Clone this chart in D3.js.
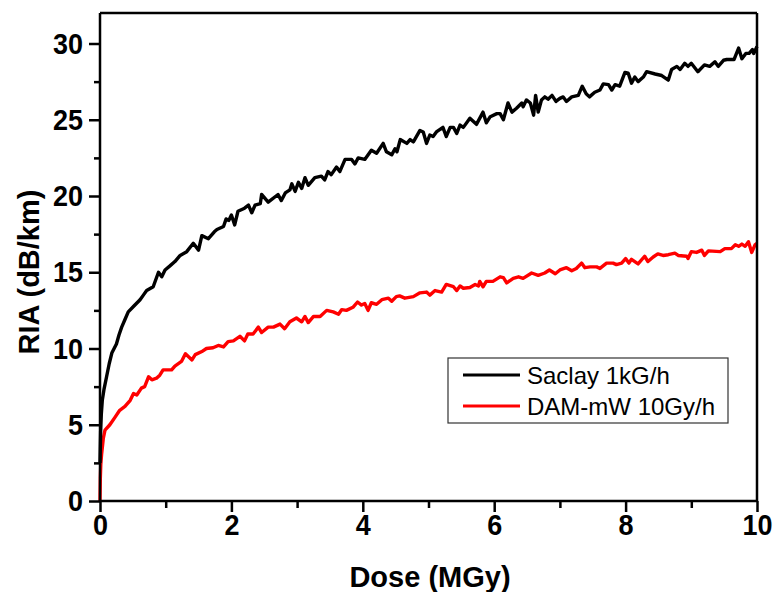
<!DOCTYPE html>
<html><head><meta charset="utf-8">
<script src="https://cdn.jsdelivr.net/npm/d3@7"></script>
<style>body{margin:0;background:#fff}svg{display:block}text{font-family:"Liberation Sans",Arial,sans-serif}</style>
</head><body><div id="chart"></div>
<script>
const seriesNames = ["Saclay 1kG/h", "DAM-mW 10Gy/h"];
const seriesColors = ["#000000", "#ff0000"];
const xTicks = [0, 2, 4, 6, 8, 10];
const yTicks = [0, 5, 10, 15, 20, 25, 30];

const doseBlack = [0,0.01,0.02,0.035,0.06,0.10,0.14,0.18,0.25,0.29,0.33,0.38,0.43,0.52,0.61,0.66,0.71,0.81,0.89,0.94,0.99,1.06,1.14,1.22,1.32,1.42,1.5,1.55,1.65,1.74,1.78,1.88,1.92,1.96,2.0,2.05,2.1,2.2,2.26,2.31,2.36,2.44,2.46,2.56,2.71,2.76,2.82,2.89,2.92,2.97,3.02,3.07,3.12,3.17,3.27,3.37,3.42,3.47,3.52,3.6,3.65,3.73,3.83,3.88,3.93,4.03,4.13,4.21,4.31,4.36,4.44,4.49,4.52,4.57,4.67,4.72,4.77,4.87,4.92,4.97,5.02,5.07,5.12,5.22,5.27,5.33,5.38,5.43,5.48,5.53,5.63,5.73,5.83,5.88,5.94,6.04,6.09,6.14,6.21,6.27,6.34,6.42,6.44,6.49,6.55,6.6,6.63,6.67,6.72,6.77,6.82,6.88,6.94,7.0,7.05,7.1,7.18,7.28,7.34,7.4,7.45,7.53,7.61,7.66,7.74,7.79,7.84,7.91,7.99,8.04,8.09,8.14,8.19,8.27,8.32,8.45,8.55,8.65,8.7,8.78,8.83,8.9,8.95,9.0,9.1,9.2,9.28,9.36,9.41,9.49,9.54,9.65,9.72,9.77,9.83,9.88,9.93,9.95,10.0];
const riaBlack = [2.5,4.6,5.7,6.6,7.3,8.15,9.0,9.7,10.3,10.9,11.4,11.9,12.4,12.8,13.2,13.5,13.8,14.05,15.0,14.7,15.15,15.4,15.7,16.1,16.35,16.9,16.45,17.4,17.2,17.65,17.8,18.0,18.5,18.4,18.75,18.1,19.0,19.2,19.4,18.9,19.4,19.5,20.1,19.6,20.1,19.7,20.2,20.4,20.8,20.3,20.9,20.5,21.2,20.7,21.2,21.3,21.05,21.6,21.4,21.9,21.6,22.4,22.4,22.1,22.5,22.4,23.0,22.8,23.45,22.9,22.7,23.1,22.9,23.7,23.45,23.7,23.55,24.3,24.2,23.45,24.0,23.9,24.2,24.5,23.9,24.5,24.5,24.1,24.65,24.5,25.1,24.7,25.5,24.8,25.2,25.4,25.4,25.0,26.1,25.5,25.75,26.1,25.85,26.3,26.1,25.3,26.6,25.5,26.3,26.5,26.35,26.6,26.2,26.4,26.5,26.2,26.5,26.6,27.2,26.7,26.5,26.8,26.95,27.35,27.3,26.95,27.3,27.2,28.1,28.05,27.4,27.8,27.5,27.8,28.15,28.0,27.9,27.6,28.3,28.5,28.3,28.7,28.5,28.7,28.15,28.6,28.5,28.8,28.5,28.9,28.95,28.95,29.7,29.0,29.35,29.35,29.6,29.35,29.8];

const doseRed = [0,0.005,0.012,0.025,0.05,0.076,0.15,0.23,0.3,0.38,0.46,0.51,0.56,0.63,0.68,0.74,0.79,0.86,0.91,0.96,1.09,1.14,1.24,1.3,1.4,1.45,1.55,1.62,1.72,1.8,1.88,1.95,2.03,2.13,2.2,2.25,2.33,2.41,2.46,2.56,2.64,2.74,2.81,2.89,2.99,3.07,3.12,3.17,3.25,3.35,3.45,3.55,3.63,3.68,3.75,3.85,3.92,3.98,4.03,4.08,4.13,4.21,4.29,4.39,4.44,4.51,4.56,4.64,4.77,4.87,4.97,5.02,5.1,5.2,5.27,5.38,5.43,5.48,5.53,5.63,5.71,5.76,5.78,5.83,5.88,5.98,6.09,6.14,6.19,6.29,6.37,6.44,6.57,6.67,6.77,6.84,6.93,7.0,7.1,7.18,7.25,7.33,7.38,7.46,7.56,7.61,7.71,7.81,7.86,7.94,8.0,8.05,8.09,8.19,8.29,8.34,8.42,8.49,8.57,8.65,8.75,8.8,8.93,8.95,9.0,9.08,9.16,9.2,9.26,9.44,9.51,9.61,9.67,9.72,9.77,9.82,9.87,9.92,9.97,10.0];
const riaRed = [0,1.5,2.4,3.1,4.1,4.65,5.0,5.5,5.95,6.2,6.6,7.05,6.95,7.4,7.5,8.15,7.95,8.05,8.25,8.6,8.6,8.85,9.15,9.65,9.25,9.6,9.8,10.0,10.05,10.2,10.1,10.45,10.5,10.8,10.5,10.95,10.95,11.4,11.05,11.4,11.4,11.6,11.3,11.75,12.0,11.75,12.1,11.7,12.1,12.1,12.5,12.4,12.25,12.55,12.5,12.7,13.05,12.85,12.95,12.5,13.0,12.9,13.2,13.3,13.1,13.4,13.45,13.3,13.4,13.65,13.7,13.5,13.8,13.7,14.2,14.05,13.8,14.1,13.95,14.0,14.2,14.1,14.4,14.05,14.4,14.4,14.7,14.65,14.3,14.6,14.7,14.6,14.95,14.8,14.95,15.15,14.9,15.15,15.3,15.1,15.25,15.6,15.3,15.35,15.35,15.25,15.6,15.6,15.5,15.6,15.9,15.6,15.85,15.55,16.05,15.7,16.0,16.2,16.1,16.15,16.25,16.1,16.05,15.9,16.35,16.3,16.45,16.1,16.4,16.35,16.55,16.55,16.8,16.7,16.85,16.7,17.0,16.3,16.8,16.9];

const W = 775, H = 592;
const svg = d3.select("#chart").append("svg").attr("width", W).attr("height", H);
const x = d3.scaleLinear().domain([0, 10]).range([100, 757]);
const y = d3.scaleLinear().domain([0, 32]).range([501, 13]);

const font = '"Liberation Sans", Arial, sans-serif';

// series
const line = d3.line().x(d => x(d[0])).y(d => y(d[1]));
const gLines = svg.append("g");
const seriesData = [d3.zip(doseBlack, riaBlack), d3.zip(doseRed, riaRed)];
[1, 0].forEach(i => {
  gLines.append("path").datum(seriesData[i])
    .attr("fill", "none").attr("stroke", seriesColors[i])
    .attr("stroke-width", 3.4).attr("stroke-linejoin", "round")
    .attr("d", line);
});

// axes
const xAxis = svg.append("g").attr("transform", `translate(0,${y(0)})`)
  .call(d3.axisBottom(x).tickValues(xTicks).tickSize(11).tickPadding(2).tickFormat(d3.format("d")));
const xMinor = svg.append("g").attr("transform", `translate(0,${y(0)})`)
  .call(d3.axisBottom(x).tickValues(d3.range(1, 10, 2)).tickSize(7).tickFormat(""));
const yAxis = svg.append("g").attr("transform", `translate(${x(0)},0)`)
  .call(d3.axisLeft(y).tickValues(yTicks).tickSize(11).tickPadding(5).tickFormat(d3.format("d")));
const yMinor = svg.append("g").attr("transform", `translate(${x(0)},0)`)
  .call(d3.axisLeft(y).tickValues(d3.range(2.5, 32, 5)).tickSize(6).tickFormat(""));
const xTop = svg.append("g").attr("transform", `translate(0,${y(32)})`)
  .call(d3.axisTop(x).tickValues([]).tickSizeOuter(0));
const yRight = svg.append("g").attr("transform", `translate(${x(10)},0)`)
  .call(d3.axisRight(y).tickValues([]).tickSizeOuter(0));

[xAxis, xMinor, yAxis, yMinor, xTop, yRight].forEach(g => {
  g.selectAll(".domain").attr("stroke", "#000").attr("stroke-width", 2.5);
  g.selectAll(".tick line").attr("stroke", "#000").attr("stroke-width", 2.5);
  g.selectAll(".tick text").attr("fill", "#000").style("font-family", font)
    .style("font-size", "30px").style("font-weight", "bold");
});
[xMinor, yMinor].forEach(g => g.select(".domain").remove());
xAxis.select(".domain").attr("d", `M${x(0)},0H${x(10)}`);
yAxis.select(".domain").attr("d", `M0,${y(0)}V${y(32)}`);
xTop.select(".domain").attr("d", `M${x(0)},0H${x(10)}`);
yRight.select(".domain").attr("d", `M0,${y(0)}V${y(32)}`);
// slightly condensed tick labels as in the reference
xAxis.selectAll(".tick text").attr("transform", "scale(0.9,1)");
yAxis.selectAll(".tick text").attr("x", -17.5).attr("transform", "scale(0.9,1) translate(-1.5,0)");

// axis titles
svg.append("text").attr("x", 430).attr("y", 587).attr("text-anchor", "middle")
  .style("font-family", font).style("font-size", "29px").style("font-weight", "bold")
  .text("Dose (MGy)");
svg.append("text").attr("transform", "translate(39,272) rotate(-90)").attr("text-anchor", "middle")
  .style("font-family", font).style("font-size", "29px").style("font-weight", "bold")
  .text("RIA (dB/km)");

// legend
const lg = svg.append("g");
lg.append("rect").attr("x", 448).attr("y", 358).attr("width", 280).attr("height", 65)
  .attr("fill", "#fff").attr("stroke", "#333").attr("stroke-width", 1.2);
seriesNames.forEach((n, i) => {
  const yy = 375 + i * 31;
  lg.append("line").attr("x1", 463).attr("x2", 520).attr("y1", yy).attr("y2", yy)
    .attr("stroke", seriesColors[i]).attr("stroke-width", 3);
  lg.append("text").attr("x", 527).attr("y", yy + 9)
    .style("font-family", font).style("font-size", "24px").text(n);
});
</script></body></html>
